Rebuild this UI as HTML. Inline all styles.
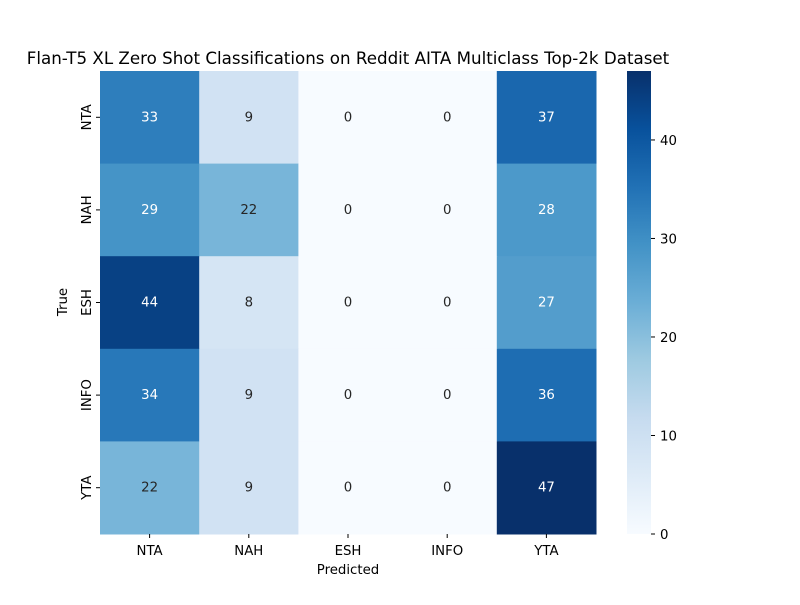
<!DOCTYPE html>
<html><head><meta charset="utf-8"><style>
body{margin:0;background:#fff}
svg text{font-family:"DejaVu Sans","Liberation Sans",sans-serif}
</style></head><body>
<svg id="chart" width="800" height="600" xmlns="http://www.w3.org/2000/svg">
<defs><linearGradient id="cbg" x1="0" y1="1" x2="0" y2="0">
<stop offset="0" stop-color="#f7fbff"/><stop offset="0.125" stop-color="#deebf7"/><stop offset="0.25" stop-color="#c6dbef"/><stop offset="0.375" stop-color="#9ecae1"/><stop offset="0.5" stop-color="#6baed6"/><stop offset="0.625" stop-color="#4292c6"/><stop offset="0.75" stop-color="#2171b5"/><stop offset="0.875" stop-color="#08519c"/><stop offset="1" stop-color="#08306b"/>
</linearGradient></defs>
<text x="348" y="64" font-size="16.7" text-anchor="middle">Flan-T5 XL Zero Shot Classifications on Reddit AITA Multiclass Top-2k Dataset</text>
<g id="cells"></g>
<text x="348" y="574" font-size="13.3" text-anchor="middle">Predicted</text>
<text transform="translate(67,302) rotate(-90)" font-size="13.3" text-anchor="middle">True</text>
<rect x="627" y="71" width="24" height="463" fill="url(#cbg)"/>
<g id="cbticks"></g>
</svg>
<script>
const xLabels=["NTA","NAH","ESH","INFO","YTA"];
const yLabels=["NTA","NAH","ESH","INFO","YTA"];
const values=[[33,9,0,0,37],[29,22,0,0,28],[44,8,0,0,27],[34,9,0,0,36],[22,9,0,0,47]];
const cbTicks=[0,10,20,30,40];
const NS="http://www.w3.org/2000/svg";
const L=100,T=71,W=496,H=463;
const vmin=0,vmax=Math.max(...values.flat());
const stops=["#f7fbff","#deebf7","#c6dbef","#9ecae1","#6baed6","#4292c6","#2171b5","#08519c","#08306b"].map(h=>[1,3,5].map(i=>parseInt(h.substr(i,2),16)));
function cmap(v){let t=(v-vmin)/(vmax-vmin)*8;let i=Math.min(7,Math.floor(t));let f=t-i;return stops[i].map((c,k)=>Math.round(c+(stops[i+1][k]-c)*f));}
function lum(c){const l=c.map(x=>{x/=255;return x<=0.03928?x/12.92:Math.pow((x+0.055)/1.055,2.4)});return 0.2126*l[0]+0.7152*l[1]+0.0722*l[2];}
const cw=W/xLabels.length,ch=H/yLabels.length;
const xs=i=>L+i*cw, ys=j=>T+j*ch;
const g=document.getElementById('cells');
function mk(tag,attrs,parent){const e=document.createElementNS(NS,tag);for(const k in attrs)e.setAttribute(k,attrs[k]);parent.appendChild(e);return e;}
values.forEach((row,j)=>row.forEach((v,i)=>{
 const c=cmap(v);
 const r=mk('rect',{x:xs(i),y:ys(j),width:cw+0.5,height:ch+0.5,fill:`rgb(${c})`},g);
 
 
 const t=mk('text',{x:xs(i)+cw/2,y:ys(j)+ch/2+4,'font-size':13.3,'text-anchor':'middle',fill:lum(c)>0.408?'#262626':'#ffffff'},g);
 t.textContent=v;
 
 
}));
xLabels.forEach((lab,i)=>{
 mk('line',{x1:xs(i)+cw/2,x2:xs(i)+cw/2,y1:T+H,y2:T+H+4,stroke:'#000'},g);
 const t=mk('text',{x:xs(i)+cw/2,y:T+H+21,'font-size':13.3,'text-anchor':'middle'},g);t.textContent=lab;
 
 
});
yLabels.forEach((lab,j)=>{
 const y=ys(j)+ch/2;
 mk('line',{x1:L-4,x2:L,y1:y,y2:y,stroke:'#000'},g);
 const t=mk('text',{transform:`translate(${L-9},${y}) rotate(-90)`,'font-size':13.3,'text-anchor':'middle'},g);t.textContent=lab;
 
 
});
const cb=document.getElementById('cbticks');
cbTicks.forEach(v=>{
 const y=T+H-(v-vmin)/(vmax-vmin)*H;
 mk('line',{x1:651,x2:655,y1:y,y2:y,stroke:'#000'},cb);
 const t=mk('text',{x:660,y:y+5,'font-size':13.3},cb);t.textContent=v;
 
 
});
</script>
</body></html>
